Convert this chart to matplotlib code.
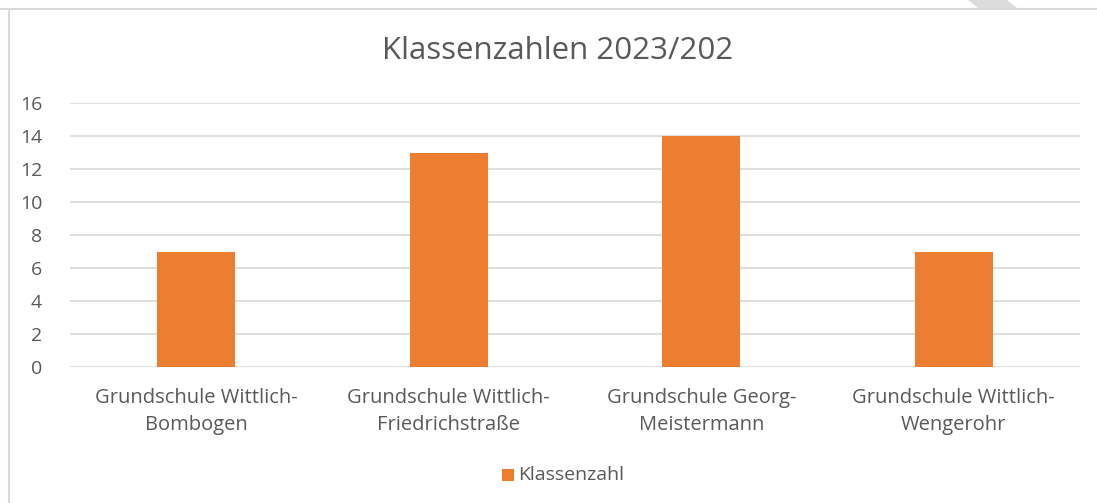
import numpy as np
import matplotlib.pyplot as plt
from matplotlib.patches import Polygon
from matplotlib.lines import Line2D

schools = ['Grundschule Wittlich-\nBombogen', 'Grundschule Wittlich-\nFriedrichstraße',
           'Grundschule Georg-\nMeistermann', 'Grundschule Wittlich-\nWengerohr']
klassen = [7, 13, 14, 7]
yticks = [0, 2, 4, 6, 8, 10, 12, 14, 16]

orange = '#ED7D31'
grey_txt = '#595959'
grid_col = '#D9D9D9'

plt.rcParams['font.family'] = ['Open Sans', 'DejaVu Sans']

W, H = 1097, 503
fig = plt.figure(figsize=(W / 100, H / 100), dpi=100)
ax = fig.add_axes([70 / W, 1 - 367 / H, (1080 - 70) / W, (367 - 103) / H])

x = np.arange(len(schools))
ax.bar(x, klassen, width=0.31, color=orange, zorder=3)
ax.set_xlim(-0.5, len(schools) - 0.5)
ax.set_ylim(0, 16)
ax.set_yticks(yticks)
ax.set_xticks(x)
ax.set_xticklabels(schools, fontsize=14.5, color=grey_txt, linespacing=1.45)
ax.tick_params(axis='y', labelsize=14, labelcolor=grey_txt, length=0, pad=20)
ax.tick_params(axis='x', length=0, pad=15)
ax.yaxis.grid(True, color=grid_col, linewidth=1.2, zorder=0)
for s in ax.spines.values():
    s.set_visible(False)

fig.text(558 / W, 1 - 51 / H, 'Klassenzahlen 2023/202', ha='center', va='center',
         fontsize=22.5, color=grey_txt)

# legend
fig.patches.append(plt.Rectangle((502 / W, 1 - 481 / H), 12 / W, 12 / H,
                                 transform=fig.transFigure, color=orange, linewidth=0))
fig.text(518 / W, 1 - 475 / H, 'Klassenzahl', ha='left', va='center',
         fontsize=14, color=grey_txt)

# chart frame (top and left edges visible)
fig.add_artist(Line2D([0, 1], [1 - 8.5 / H, 1 - 8.5 / H], transform=fig.transFigure,
                      color=grid_col, linewidth=1.5))
fig.add_artist(Line2D([8.5 / W, 8.5 / W], [0, 1 - 8.5 / H], transform=fig.transFigure,
                      color=grid_col, linewidth=1.5))
# grey watermark stripe at the top right
fig.patches.append(Polygon([(968 / W, 1), (1007 / W, 1), (1017 / W, 1 - 8 / H), (978 / W, 1 - 8 / H)],
                           closed=True, transform=fig.transFigure, facecolor='#DCDCDC', linewidth=0))

fig.savefig('out.png', dpi=100)
